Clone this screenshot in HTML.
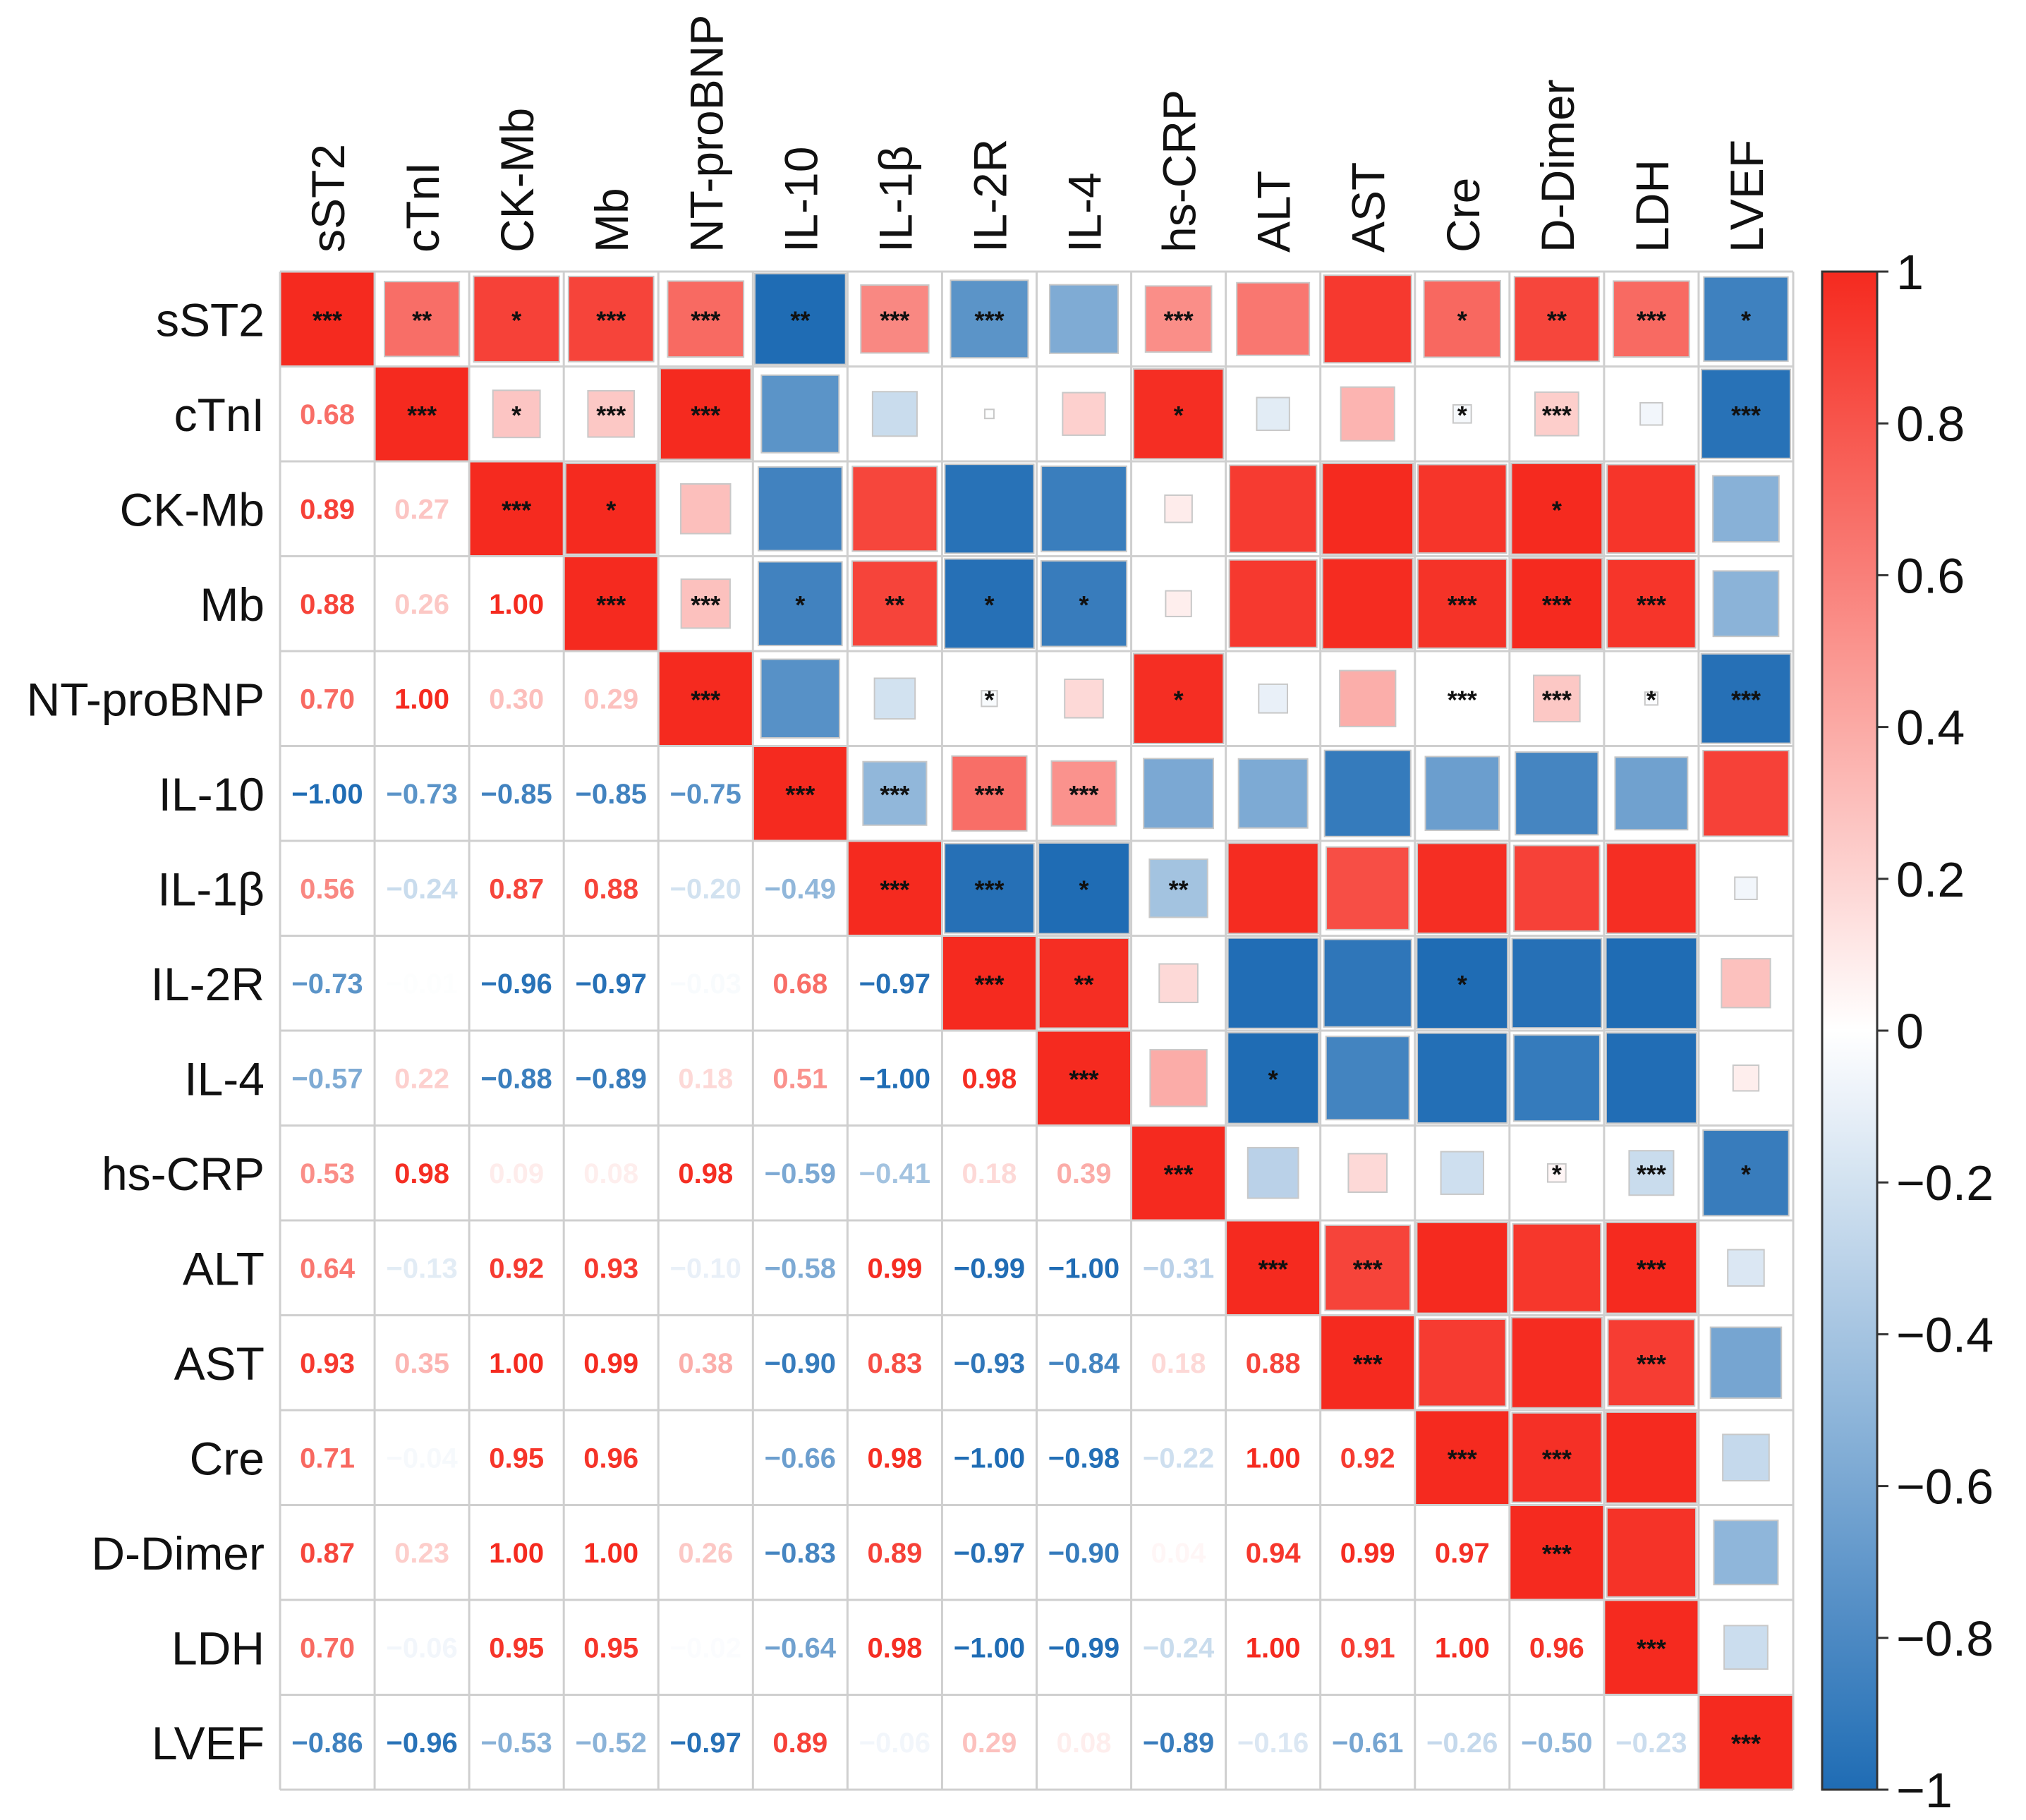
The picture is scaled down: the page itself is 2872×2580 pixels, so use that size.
<!DOCTYPE html>
<html><head><meta charset="utf-8"><style>
html,body{margin:0;padding:0;background:#fff;}
svg{display:block;font-family:"Liberation Sans",Arial,sans-serif;}
</style></head><body>
<svg id="chart" width="2872" height="2580" viewBox="0 0 2872 2580" xmlns="http://www.w3.org/2000/svg">
<rect width="2872" height="2580" fill="#fff"/>
<g id="cells"></g>
<g id="grid"></g>
<g id="labels"></g>
<g id="cbar"></g>
</svg>
<script>
const vars = ["sST2","cTnI","CK-Mb","Mb","NT-proBNP","IL-10","IL-1β","IL-2R","IL-4","hs-CRP","ALT","AST","Cre","D-Dimer","LDH","LVEF"];
const lowerVals = [
 [],
 [0.68],
 [0.89,0.27],
 [0.88,0.26,1.00],
 [0.70,1.00,0.30,0.29],
 [-1.00,-0.73,-0.85,-0.85,-0.75],
 [0.56,-0.24,0.87,0.88,-0.20,-0.49],
 [-0.73,-0.01,-0.96,-0.97,-0.03,0.68,-0.97],
 [-0.57,0.22,-0.88,-0.89,0.18,0.51,-1.00,0.98],
 [0.53,0.98,0.09,0.08,0.98,-0.59,-0.41,0.18,0.39],
 [0.64,-0.13,0.92,0.93,-0.10,-0.58,0.99,-0.99,-1.00,-0.31],
 [0.93,0.35,1.00,0.99,0.38,-0.90,0.83,-0.93,-0.84,0.18,0.88],
 [0.71,-0.04,0.95,0.96,0.00,-0.66,0.98,-1.00,-0.98,-0.22,1.00,0.92],
 [0.87,0.23,1.00,1.00,0.26,-0.83,0.89,-0.97,-0.90,0.04,0.94,0.99,0.97],
 [0.70,-0.06,0.95,0.95,-0.02,-0.64,0.98,-1.00,-0.99,-0.24,1.00,0.91,1.00,0.96],
 [-0.86,-0.96,-0.53,-0.52,-0.97,0.89,-0.06,0.29,0.08,-0.89,-0.16,-0.61,-0.26,-0.50,-0.23]
];
const upperStars = [
 ["***","**","*","***","***","**","***","***","","***","","","*","**","***","*"],
 ["***","*","***","***","","","","","*","","","*","***","","***"],
 ["***","*","","","","","","","","","","*",""],
 ["***","***","*","**","*","*","","","","***","***","***",""],
 ["***","","","*","","*","","","***","***","*","***"],
 ["***","***","***","***","","","","","","",""],
 ["***","***","*","**","","","","","",""],
 ["***","**","","","","*","","",""],
 ["***","","*","","","","",""],
 ["***","","","","*","***","*"],
 ["***","***","","","***",""],
 ["***","","","***",""],
 ["***","***","",""],
 ["***","",""],
 ["***",""],
 ["***"]
];
const tickVals = [1,0.8,0.6,0.4,0.2,0,-0.2,-0.4,-0.6,-0.8,-1];
const tickLabels = ["1","0.8","0.6","0.4","0.2","0","−0.2","−0.4","−0.6","−0.8","−1"];

const NS="http://www.w3.org/2000/svg";
const X0=397,Y0=385,X1=2542,Y1=2537,n=vars.length;
const cw=(X1-X0)/n,ch=(Y1-Y0)/n;
const xPos=j=>X0+j*cw, yPos=i=>Y0+i*ch;
function mk(tag,attrs,parent){const e=document.createElementNS(NS,tag);for(const k in attrs)e.setAttribute(k,attrs[k]);parent.appendChild(e);return e;}
function col(r){
  const pos=[245,42,31],neg=[31,108,180];
  const c=r>=0?pos:neg,t=Math.min(1,Math.abs(r));
  const m=c.map(v=>Math.round(255+(v-255)*t));
  return `rgb(${m[0]},${m[1]},${m[2]})`;
}
function val(i,j){return i===j?1:(i>j?lowerVals[i][j]:lowerVals[j][i]);}
function fmt(v){const s=Math.abs(v).toFixed(2);return (v<0?"−":"")+s;}
const cells=document.getElementById('cells');
for(let i=0;i<n;i++){for(let j=0;j<n;j++){
  const v=val(i,j),cx=xPos(j)+cw/2,cy=yPos(i)+ch/2;
  if(j>=i){
    const s=Math.sqrt(Math.abs(v))*(j===i?cw:cw*0.96);
    const r=mk('rect',{x:cx-s/2,y:cy-s/2,width:s,height:s,fill:col(v),stroke:j===i?'none':'#c8c8c8','stroke-width':2},cells);
    
    
    const st=upperStars[i][j-i];
    if(st){const t=mk('text',{x:cx,y:cy+14,'text-anchor':'middle','font-size':36,'font-weight':'bold',fill:'#111'},cells);t.textContent=st;
      
      }
  } else {
    const t=mk('text',{x:cx,y:cy+14,'text-anchor':'middle','font-size':40,'font-weight':'bold',fill:col(v)},cells);
    t.textContent=fmt(v);
    
    
  }
}}
const grid=document.getElementById('grid');
for(let k=0;k<=n;k++){
  mk('line',{x1:xPos(k),x2:xPos(k),y1:Y0,y2:Y1,stroke:'#cfcfcf','stroke-width':3},grid);
  mk('line',{x1:X0,x2:X1,y1:yPos(k),y2:yPos(k),stroke:'#cfcfcf','stroke-width':3},grid);
}
const labels=document.getElementById('labels');
vars.forEach((v,i)=>{
  const t=mk('text',{x:375,y:yPos(i)+ch/2+24,'text-anchor':'end','font-size':66,fill:'#111'},labels);t.textContent=v;
  
  
  const cx=xPos(i)+cw/2+24;
  const c=mk('text',{x:cx,y:358,'text-anchor':'start','font-size':66,fill:'#111',transform:`rotate(-90 ${cx} 358)`},labels);c.textContent=v;
  
  
});
const cb=document.getElementById('cbar');
const defs=mk('defs',{},cb);
const g=mk('linearGradient',{id:'cg',x1:0,y1:0,x2:0,y2:1},defs);
for(let k=0;k<=20;k++){const r=1-k/10;mk('stop',{offset:(k/20),'stop-color':col(r)},g);}
const CBX=2583,CBW=78;
const cyv=v=>Y0+(1-v)/2*(Y1-Y0);
const bar=mk('rect',{x:CBX,y:Y0,width:CBW,height:Y1-Y0,fill:'url(#cg)',stroke:'#333','stroke-width':3},cb);


tickVals.forEach((v,k)=>{
  const y=cyv(v);
  mk('line',{x1:CBX+CBW,x2:CBX+CBW+16,y1:y,y2:y,stroke:'#333','stroke-width':3},cb);
  const t=mk('text',{x:2688,y:y+25,'font-size':70,fill:'#111'},cb);t.textContent=tickLabels[k];
  
  
});
</script>
</body></html>
